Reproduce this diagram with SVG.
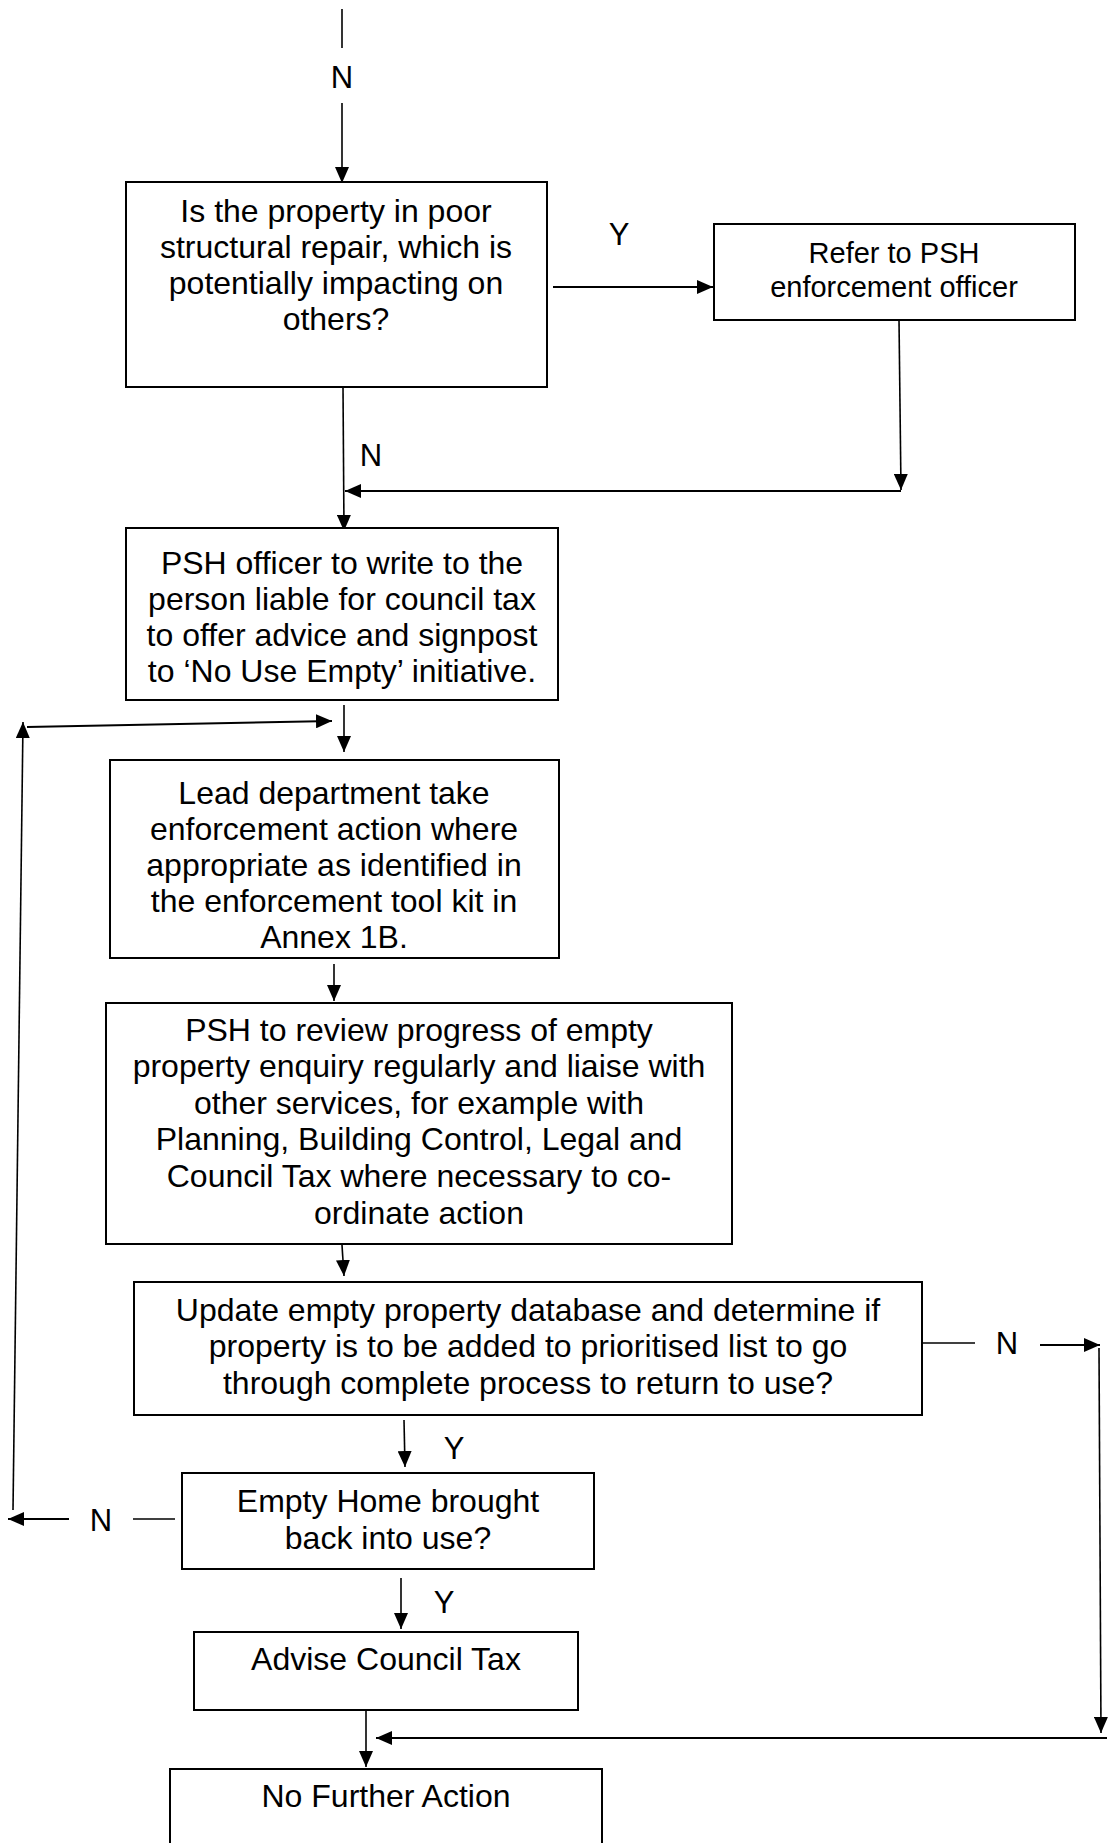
<svg xmlns="http://www.w3.org/2000/svg" width="1108" height="1843" viewBox="0 0 1108 1843">
<style>
.box{fill:#fff;stroke:#000;stroke-width:2}
.t{font-family:"Liberation Sans",Arial,sans-serif;font-size:32px;fill:#000;text-anchor:middle}
.ts{font-size:29px}
.lbl{font-family:"Liberation Sans",Arial,sans-serif;font-size:31px;fill:#000;text-anchor:middle}
.c{fill:none;stroke:#000;stroke-width:1.6}
.ca{marker-end:url(#ah)}
</style>
<defs>
<marker id="ah" markerUnits="userSpaceOnUse" markerWidth="16" markerHeight="14" refX="16" refY="7" orient="auto" viewBox="0 0 16 14">
<path d="M0,0 L16,7 L0,14 z" fill="#000"/>
</marker>
</defs>
<rect width="1108" height="1843" fill="#fff"/>
<g id="connectors">
<line class="c" x1="342" y1="9" x2="342" y2="48"/>
<line class="c ca" x1="342" y1="103" x2="342" y2="183"/>
<line class="c ca" x1="553" y1="287" x2="713" y2="287" style="stroke-width:2"/>
<line class="c ca" x1="899" y1="320" x2="901" y2="490"/>
<line class="c ca" x1="901" y1="491" x2="345" y2="491" style="stroke-width:2"/>
<line class="c ca" x1="343" y1="387" x2="344" y2="531"/>
<line class="c ca" x1="344" y1="705" x2="344" y2="752"/>
<line class="c ca" x1="13" y1="1510" x2="23" y2="722"/>
<line class="c ca" x1="27" y1="727" x2="332" y2="721" style="stroke-width:2"/>
<line class="c ca" x1="334" y1="964" x2="334" y2="1001"/>
<line class="c ca" x1="342" y1="1245" x2="344" y2="1276"/>
<line class="c" x1="922" y1="1343" x2="975" y2="1343"/>
<line class="c ca" x1="1040" y1="1345" x2="1100" y2="1345" style="stroke-width:2"/>
<line class="c ca" x1="1099" y1="1348" x2="1101" y2="1733"/>
<line class="c ca" x1="1107" y1="1738" x2="376" y2="1738" style="stroke-width:2"/>
<line class="c ca" x1="404" y1="1420" x2="405" y2="1467"/>
<line class="c" x1="175" y1="1519" x2="133" y2="1519"/>
<line class="c ca" x1="69" y1="1519" x2="8" y2="1519" style="stroke-width:2"/>
<line class="c ca" x1="401" y1="1578" x2="401" y2="1629"/>
<line class="c ca" x1="366" y1="1710" x2="366" y2="1767"/>
<text class="lbl" x="342" y="88">N</text>
<text class="lbl" x="619" y="245">Y</text>
<text class="lbl" x="371" y="466">N</text>
<text class="lbl" x="1007" y="1354">N</text>
<text class="lbl" x="454" y="1459">Y</text>
<text class="lbl" x="101" y="1531">N</text>
<text class="lbl" x="444" y="1613">Y</text>
</g>
<g id="n1">
<rect class="box" x="126" y="182" width="421" height="205"/>
<text class="t" x="336" y="222">Is the property in poor</text>
<text class="t" x="336" y="258">structural repair, which is</text>
<text class="t" x="336" y="294">potentially impacting on</text>
<text class="t" x="336" y="330">others?</text>
</g>
<g id="n2">
<rect class="box" x="714" y="224" width="361" height="96"/>
<text class="t ts" x="894" y="263">Refer to PSH</text>
<text class="t ts" x="894" y="297">enforcement officer</text>
</g>
<g id="n3">
<rect class="box" x="126" y="528" width="432" height="172"/>
<text class="t" x="342" y="574">PSH officer to write to the</text>
<text class="t" x="342" y="610">person liable for council tax</text>
<text class="t" x="342" y="646">to offer advice and signpost</text>
<text class="t" x="342" y="682">to ‘No Use Empty’ initiative.</text>
</g>
<g id="n4">
<rect class="box" x="110" y="760" width="449" height="198"/>
<text class="t" x="334" y="804">Lead department take</text>
<text class="t" x="334" y="840">enforcement action where</text>
<text class="t" x="334" y="876">appropriate as identified in</text>
<text class="t" x="334" y="912">the enforcement tool kit in</text>
<text class="t" x="334" y="948">Annex 1B.</text>
</g>
<g id="n5">
<rect class="box" x="106" y="1003" width="626" height="241"/>
<text class="t" x="419" y="1041">PSH to review progress of empty</text>
<text class="t" x="419" y="1077">property enquiry regularly and liaise with</text>
<text class="t" x="419" y="1114">other services, for example with</text>
<text class="t" x="419" y="1150">Planning, Building Control, Legal and</text>
<text class="t" x="419" y="1187">Council Tax where necessary to co-</text>
<text class="t" x="419" y="1224">ordinate action</text>
</g>
<g id="n6">
<rect class="box" x="134" y="1282" width="788" height="133"/>
<text class="t" x="528" y="1321">Update empty property database and determine if</text>
<text class="t" x="528" y="1357">property is to be added to prioritised list to go</text>
<text class="t" x="528" y="1394">through complete process to return to use?</text>
</g>
<g id="n7">
<rect class="box" x="182" y="1473" width="412" height="96"/>
<text class="t" x="388" y="1512">Empty Home brought</text>
<text class="t" x="388" y="1549">back into use?</text>
</g>
<g id="n8">
<rect class="box" x="194" y="1632" width="384" height="78"/>
<text class="t" x="386" y="1670">Advise Council Tax</text>
</g>
<g id="n9">
<rect class="box" x="170" y="1769" width="432" height="80"/>
<text class="t" x="386" y="1807">No Further Action</text>
</g>
</svg>
